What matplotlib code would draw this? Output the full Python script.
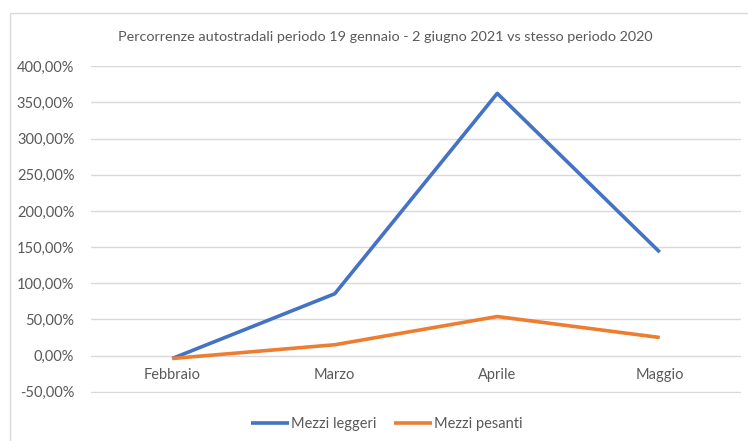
import matplotlib
matplotlib.use("Agg")
import matplotlib.pyplot as plt
import matplotlib.ticker as mticker
from matplotlib.patches import Rectangle

plt.rcParams['font.family'] = ['Lato', 'DejaVu Sans']

months = ["Febbraio", "Marzo", "Aprile", "Maggio"]
leggeri = [-4.0, 85.5, 362.5, 143.0]
pesanti = [-4.0, 15.0, 54.0, 25.0]
yticks = [-50, 0, 50, 100, 150, 200, 250, 300, 350, 400]

txt = "#595959"
grid = "#D9D9D9"

fig = plt.figure(figsize=(7.48, 4.41), dpi=100)
fig.patches.append(Rectangle((10 / 748, -0.1), 1.0, 1 - 13 / 441 + 0.1,
                             transform=fig.transFigure, fill=False,
                             edgecolor=grid, linewidth=1))
ax = fig.add_axes([91 / 748, 1 - 392.5 / 441, 650 / 748, (392.5 - 65.5) / 441])

x = range(len(months))
ax.plot(x, leggeri, color="#4472C4", linewidth=2.6, label="Mezzi leggeri",
        solid_capstyle="butt", zorder=3)
ax.plot(x, pesanti, color="#ED7D31", linewidth=2.6, label="Mezzi pesanti",
        solid_capstyle="butt", zorder=3)

ax.set_xlim(-0.5, len(months) - 0.5)
ax.set_ylim(-51, 401)
ax.set_yticks(yticks)
ax.yaxis.set_major_formatter(mticker.FuncFormatter(
    lambda v, p: ("%.2f%%" % v).replace(".", ",")))
ax.grid(axis="y", color=grid, linewidth=1)
ax.set_axisbelow(True)

for s in ["top", "right", "left"]:
    ax.spines[s].set_visible(False)
ax.spines["bottom"].set_position(("data", 0))
ax.spines["bottom"].set_visible(False)
ax.set_xticks(list(x))
ax.set_xticklabels(months)
ax.tick_params(axis="x", length=0, pad=9, labelsize=10.5, labelcolor=txt)
ax.tick_params(axis="y", length=0, pad=12, labelsize=10.5, labelcolor=txt)

fig.text(385.5 / 748, 1 - 37 / 441, "Percorrenze autostradali periodo 19 gennaio - 2 giugno 2021 vs stesso periodo 2020",
         ha="center", va="center", fontsize=10.4, color=txt)

fig.legend(loc="center", bbox_to_anchor=(387 / 748, 1 - 424 / 441), ncol=2,
           frameon=False, fontsize=10.5, labelcolor=txt, handlelength=2.6,
           handletextpad=0.15, columnspacing=1.2)

fig.savefig("out.png", dpi=100)
